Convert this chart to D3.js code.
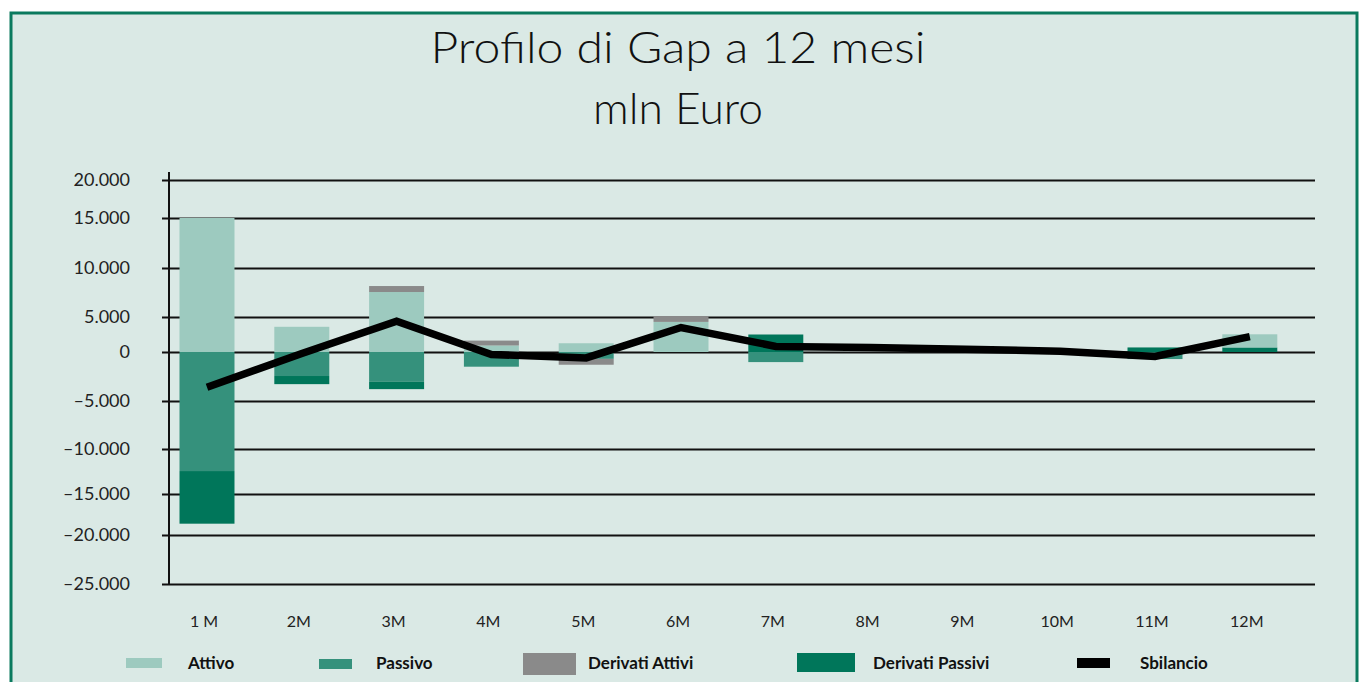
<!DOCTYPE html>
<html>
<head>
<meta charset="utf-8">
<script src="https://cdn.jsdelivr.net/npm/d3@7"></script>
<style>
  body { margin: 0; background: #ffffff; }
  svg { display: block; }
</style>
</head>
<body>
<script>
// Profilo di Gap a 12 mesi (mln Euro)

const width = 1362;
const height = 682;

// The data
const categories = ['1 M', '2M', '3M', '4M', '5M', '6M', '7M', '8M', '9M', '10M', '11M', '12M'];
const attivo          = [15000, 3600, 7550, 930, 1250, 4300,     0, 0, 0, 0,    0, 1880];
const passivo         = [-12450, -2450, -3040, -1500, -700, 0, -1030, 0, 0, 0, -720, 0];
const derivatiAttivi  = [0, 0, 610, 700, -600, 800, 0, 0, 0, 0, 0, 0];
const derivatiPassivi = [-6170, -830, -750, 0, 0, 0, 2500, 0, 0, 0, 650, 650];
const sbilancio       = [-3600, -150, 4400, -250, -600, 3500, 800, 650, 400, 100, -450, 2200];
const yTicks = [20000, 15000, 10000, 5000, 0, -5000, -10000, -15000, -20000, -25000];

const seriesNames  = ['Attivo', 'Passivo', 'Derivati Attivi', 'Derivati Passivi', 'Sbilancio'];
const seriesColors = ['#9dcabf', '#35917c', '#8a8a8a', '#00765a', '#000000'];

// The title
const mainTitle = 'Profilo di Gap a 12 mesi';
const subTitle = 'mln Euro';

// layout: the gridlines of the original are not evenly spaced
const gridY = [180, 218, 268, 317, 352, 401, 449, 494, 535, 584];
const axisX = 169;
const gridRight = 1315;

const itForm = d3.formatLocale({decimal: ',', thousands: '.', grouping: [3], currency: ['€', ''], minus: '\u2013'});

var svg = d3.select('body').append('svg')
  .attr('width', width)
  .attr('height', height)
  .style('font-family', 'Lato, "Open Sans", sans-serif');

// frame
svg.append('rect')
  .attr('x', 11).attr('y', 13)
  .attr('width', 1346).attr('height', 720)
  .attr('fill', '#dae9e5')
  .attr('stroke', '#0a7a5e')
  .attr('stroke-width', 3);

// titles
svg.append('text')
  .attr('x', 678).attr('y', 63)
  .attr('textLength', 495)
  .attr('lengthAdjust', 'spacingAndGlyphs')
  .style('text-anchor', 'middle')
  .style('font-size', '43px')
  .style('font-weight', 300)
  .style('fill', '#111')
  .text(mainTitle);

svg.append('text')
  .attr('x', 678).attr('y', 124)
  .attr('textLength', 170)
  .attr('lengthAdjust', 'spacingAndGlyphs')
  .style('text-anchor', 'middle')
  .style('font-size', '43px')
  .style('font-weight', 300)
  .style('fill', '#111')
  .text(subTitle);

// scales
var x = d3.scaleBand()
  .domain(categories)
  .range([159.6, 1297.2])
  .paddingInner(0.42)
  .paddingOuter(0.21);

var y = d3.scaleLinear()
  .domain(yTicks)
  .range(gridY);

// y axis with gridlines
var yAxis = d3.axisLeft(y)
  .tickValues(yTicks)
  .tickSizeInner(-(gridRight - axisX))
  .tickSizeOuter(0)
  .tickPadding(39)
  .tickFormat(itForm.format(',.0f'));

var gAxis = svg.append('g')
  .attr('transform', 'translate(' + axisX + ',0)')
  .call(yAxis);

gAxis.select('.domain').remove();
gAxis.selectAll('.tick line')
  .attr('x1', -7)
  .attr('stroke', '#111')
  .attr('stroke-width', 2);
gAxis.selectAll('.tick text')
  .style('font-size', '18px')
  .style('font-family', 'Lato, "Open Sans", sans-serif')
  .style('fill', '#222');

svg.append('line')
  .attr('x1', axisX).attr('x2', axisX)
  .attr('y1', y(20000) - 8).attr('y2', y(-25000))
  .attr('stroke', '#111')
  .attr('stroke-width', 2);

// stacked bars (stack order as in the original)
var rows = categories.map(function(c, i) {
  return {cat: c, Passivo: passivo[i], 'Derivati Passivi': derivatiPassivi[i],
          Attivo: attivo[i], 'Derivati Attivi': derivatiAttivi[i]};
});
var stackKeys = ['Passivo', 'Derivati Passivi', 'Attivo', 'Derivati Attivi'];
var stacked = d3.stack().keys(stackKeys).offset(d3.stackOffsetDiverging)(rows);

var colorOf = d3.scaleOrdinal().domain(seriesNames).range(seriesColors);

svg.append('g').selectAll('g')
  .data(stacked)
  .join('g')
  .attr('fill', function(d) { return colorOf(d.key); })
  .selectAll('rect')
  .data(function(d) { return d; })
  .join('rect')
  .attr('x', function(d) { return x(d.data.cat); })
  .attr('width', x.bandwidth())
  .attr('y', function(d) { return Math.min(y(d[0]), y(d[1])); })
  .attr('height', function(d) { return Math.abs(y(d[0]) - y(d[1])); });

// Sbilancio line
var line = d3.line()
  .x(function(d, i) { return x(categories[i]) + x.bandwidth() / 2; })
  .y(function(d) { return y(d); });

svg.append('path')
  .datum(sbilancio)
  .attr('d', line)
  .attr('fill', 'none')
  .attr('stroke', '#000')
  .attr('stroke-width', 7.5);

// x labels
svg.append('g').selectAll('text')
  .data(categories)
  .join('text')
  .attr('x', function(d) { return x(d) + x.bandwidth() / 2 - 3; })
  .attr('y', 627)
  .style('text-anchor', 'middle')
  .style('font-size', '16px')
  .style('fill', '#222')
  .text(function(d) { return d; });

// legend
const legendSwatchX = [126, 319, 523, 797, 1077];
const legendSwatchW = [36, 33, 53, 58, 33];
const legendSwatchY = [658, 659, 653, 653, 658];
const legendSwatchH = [10, 10, 22, 19, 10];
const legendTextX = [188, 376, 588, 873, 1140];

var legend = svg.append('g').selectAll('g')
  .data(seriesNames)
  .join('g');

legend.append('rect')
  .attr('x', function(d, i) { return legendSwatchX[i]; })
  .attr('y', function(d, i) { return legendSwatchY[i]; })
  .attr('width', function(d, i) { return legendSwatchW[i]; })
  .attr('height', function(d, i) { return legendSwatchH[i]; })
  .attr('fill', function(d) { return colorOf(d); });

legend.append('text')
  .attr('x', function(d, i) { return legendTextX[i]; })
  .attr('y', 669)
  .style('font-size', '17px')
  .style('font-weight', 'bold')
  .style('fill', '#111')
  .text(function(d) { return d; });
</script>
</body>
</html>
